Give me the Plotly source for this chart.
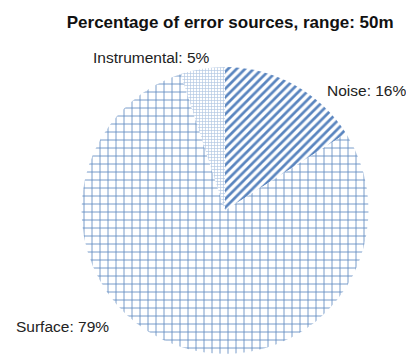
import plotly.graph_objects as go

# Error-source breakdown at 50 m range
labels = ["Noise", "Surface", "Instrumental"]
values = [16, 79, 5]
shapes = ["/", "+", "+"]
pattern_sizes = [6, 8, 3]
pattern_solidity = [0.45, 0.2, 0.4]
pattern_colors = ["#5a85bf", "#5f88c0", "#b3c8e3"]

# label anchor positions (paper coords) for each slice
label_pos = [(0.800, 0.745, "left"), (0.035, 0.083, "left"), (0.225, 0.838, "left")]

fig = go.Figure(
    go.Pie(
        labels=labels,
        values=values,
        sort=False,
        direction="clockwise",
        rotation=0,
        textinfo="none",
        hoverinfo="label+percent",
        showlegend=False,
        marker=dict(
            colors=["white"] * 3,
            line=dict(width=0),
            pattern=dict(
                shape=shapes,
                size=pattern_sizes,
                solidity=pattern_solidity,
                fgcolor=pattern_colors,
                fgopacity=1,
                bgcolor="white",
                fillmode="replace",
            ),
        ),
        domain=dict(x=[0.1995, 0.9089], y=[0.006, 0.812]),
    )
)

for lab, val, (x, y, anchor) in zip(labels, values, label_pos):
    fig.add_annotation(
        text=f"{lab}: {val}%",
        x=x, y=y, xref="paper", yref="paper",
        xanchor=anchor, yanchor="middle",
        showarrow=False,
        font=dict(family="Liberation Sans, Arial, sans-serif", size=15.5, color="#222222"),
    )

fig.update_layout(
    width=406,
    height=356,
    margin=dict(l=0, r=0, t=0, b=0),
    paper_bgcolor="white",
    plot_bgcolor="white",
    title=dict(
        text="<b>Percentage of error sources, range: 50m</b>",
        x=0.567, xanchor="center",
        y=0.938, yanchor="middle",
        font=dict(family="Liberation Sans, Arial, sans-serif", size=17, color="#111111"),
    ),
)

fig.write_html("out.html")
